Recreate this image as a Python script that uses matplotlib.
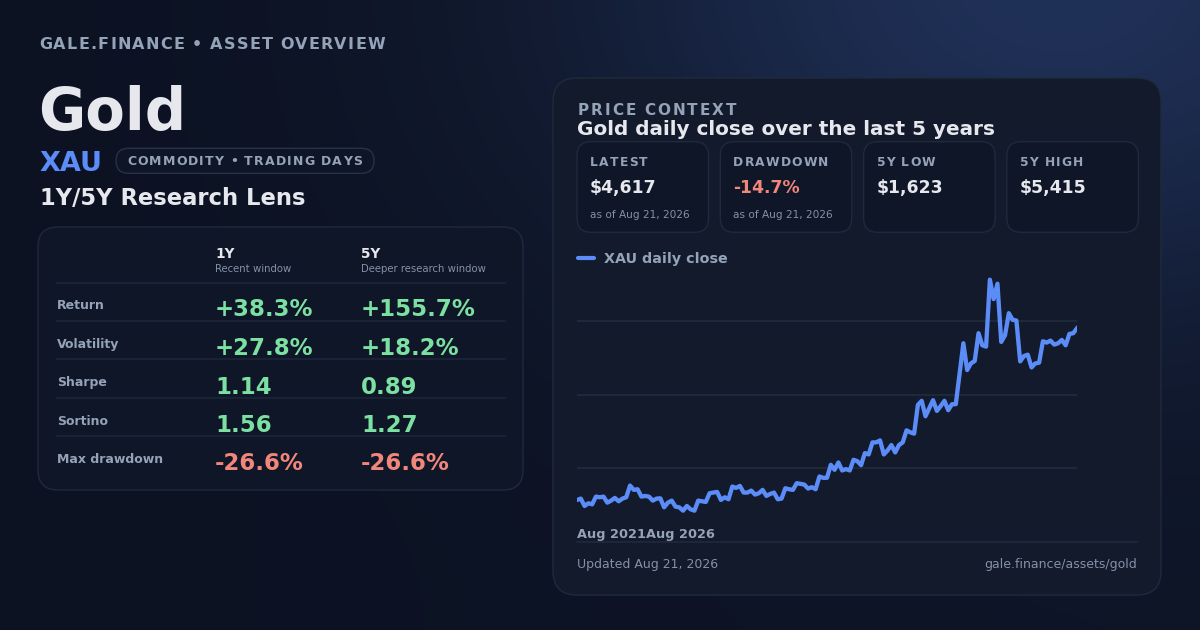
"""
Gold asset overview card: 1Y/5Y metrics table plus 5-year price context.
"""

import numpy as np
import pandas as pd
import matplotlib
matplotlib.use('Agg')
import matplotlib.pyplot as plt
from matplotlib.patches import FancyBboxPatch

# ---- data -------------------------------------------------------------
asset_name = "Gold"
ticker = "XAU"
updated = "Aug 21, 2026"

metrics = ['Return', 'Volatility', 'Sharpe', 'Sortino', 'Max drawdown']
metric_is_pct = [True, True, False, False, True]
one_year = [38.3, 27.8, 1.14, 1.56, -26.6]
five_year = [155.7, 18.2, 0.89, 1.27, -26.6]

stat_labels = ['LATEST', 'DRAWDOWN', '5Y LOW', '5Y HIGH']
stat_values = ['$4,617', '-14.7%', '$1,623', '$5,415']
stat_notes = ['as of Aug 21, 2026', 'as of Aug 21, 2026', '', '']

price = [1799, 1821, 1700, 1744, 1727, 1854, 1843, 1854, 1755, 1788,
         1832, 1777, 1821, 1843, 2035, 1964, 1975, 1854, 1865, 1854,
         1788, 1821, 1826, 1678, 1755, 1788, 1689, 1678, 1623, 1700,
         1645, 1623, 1788, 1777, 1766, 1909, 1920, 1931, 1799, 1843,
         1810, 2019, 1997, 2030, 1920, 1920, 1953, 1887, 1909, 1964,
         1865, 1898, 1920, 1810, 1821, 1991, 1975, 1964, 2074, 2063,
         2052, 1986, 2008, 1975, 2184, 2162, 2162, 2376, 2294, 2414,
         2283, 2305, 2283, 2458, 2436, 2370, 2568, 2546, 2744, 2744,
         2777, 2546, 2612, 2700, 2579, 2700, 2744, 2942, 2909, 2887,
         3360, 3426, 3173, 3305, 3437, 3261, 3338, 3426, 3272, 3371,
         3371, 3871, 4371, 3931, 4041, 4080, 4536, 4338, 4316, 5415,
         5096, 5349, 4393, 4503, 4865, 4756, 4745, 4074, 4162, 4184,
         3975, 4041, 4052, 4404, 4382, 4415, 4349, 4371, 4426, 4338,
         4525, 4536, 4617]
dates = pd.date_range('2021-08-21', '2026-08-21', periods=len(price))

# ---- style ------------------------------------------------------------
W, H = 1200, 630
WHITE = '#e6e8ee'
MUTED = '#94a3b8'
DIM = '#8591a6'
BLUE = '#5b8cf8'
GREEN = '#7be0a2'
RED = '#f1867b'
EDGE = '#1f2a3d'
LINE = '#1c2639'
Y_LO, Y_HI = 1125, 5935

fig = plt.figure(figsize=(12, 6.3), dpi=100)
bg = fig.add_axes([0, 0, 1, 1])

# background: dark navy with a soft glow from the top right
yy, xx = np.mgrid[0:H, 0:W]
glow = np.exp(-((xx - 1060) ** 2 / (2 * 340.0 ** 2) + (yy + 30) ** 2 / (2 * 240.0 ** 2)))
lift = np.clip((xx / W) * (yy / H), 0, 1) * 0.08
base = np.array([12, 18, 34]) / 255
top = np.array([32, 49, 88]) / 255
img = base + (glow + lift)[..., None] * (top - base)
bg.imshow(np.clip(img, 0, 1), extent=[0, W, H, 0], aspect='auto', zorder=0)
bg.set_xlim(0, W)
bg.set_ylim(H, 0)
bg.axis('off')

renderer = fig.canvas.get_renderer()


def ink_width(s, **kw):
    t = bg.text(0, 0, s, **kw)
    w = t.get_window_extent(renderer).width
    t.remove()
    return w


def spaced(x, y, s, width, **kw):
    """Letter-spaced text spanning `width` pixels."""
    ws = []
    for c in s:
        if c == ' ':
            ws.append(ink_width('a a', **kw) - ink_width('aa', **kw))
        else:
            ws.append(ink_width(c, **kw))
    gap = (width - sum(ws)) / (len(s) - 1)
    for c, w in zip(s, ws):
        if c != ' ':
            bg.text(x, y, c, ha='left', va='baseline', zorder=3, **kw)
        x += w + gap


def card(x0, y0, x1, y1, r, fc, ec=EDGE, lw=1.0):
    bg.add_patch(FancyBboxPatch((x0, y0), x1 - x0, y1 - y0,
                                boxstyle=f"round,pad=0,rounding_size={r}",
                                fc=fc, ec=ec, lw=lw, zorder=1))


def txt(x, y, s, size, color, weight='normal', ha='left'):
    bg.text(x, y, s, fontsize=size, color=color, fontweight=weight,
            ha=ha, va='baseline', zorder=3)


# ---- left header ------------------------------------------------------
spaced(39, 49, "GALE.FINANCE • ASSET OVERVIEW", 346,
       fontsize=11.5, fontweight='bold', color=MUTED)
txt(38, 130, asset_name, 41.5, WHITE, 'bold')
txt(39, 171, ticker, 19.5, BLUE, 'bold')
card(116, 148.3, 374, 173.3, 12.5, '#0e1526', ec='#263248')
spaced(127, 165.3, "COMMODITY • TRADING DAYS", 235,
       fontsize=9, fontweight='bold', color=MUTED)
txt(40, 205, "1Y/5Y Research Lens", 16.3, WHITE, 'bold')

# ---- metrics table ----------------------------------------------------
card(38, 227, 523, 490, 20, '#0f1627')
col_x = [215, 361]
col_titles = ['1Y', '5Y']
col_subs = ['Recent window', 'Deeper research window']
for cx, t, s in zip(col_x, col_titles, col_subs):
    txt(cx, 258.3, t, 9.8, WHITE, 'bold')
    txt(cx, 272.3, s, 7.3, DIM)
bg.plot([57, 505], [283.3, 283.3], color=LINE, lw=1.2, zorder=2)


def fmt(v, pct):
    if pct:
        return f"{v:+.1f}%"
    return f"{v:.2f}"


row_step = 38.5
for i, (m, pct, a, b) in enumerate(zip(metrics, metric_is_pct, one_year, five_year)):
    yl = 309.3 + i * row_step
    txt(57, yl, m, 9, MUTED, 'bold')
    for cx, v in zip(col_x, (a, b)):
        txt(cx, yl + 7.2, fmt(v, pct), 16.5, RED if v < 0 else GREEN, 'bold')
    if i < len(metrics) - 1:
        ys = 320.5 + i * row_step
        bg.plot([57, 505], [ys, ys], color=LINE, lw=1.2, zorder=2)

# ---- right card -------------------------------------------------------
card(553, 78, 1161, 595, 24, '#121a2c')
spaced(578, 115.3, "PRICE CONTEXT", 158, fontsize=11, fontweight='bold', color=MUTED)
txt(577, 135, f"{asset_name} daily close over the last 5 years", 14.4, WHITE, 'bold')

box_w, box_gap = 131.5, 11.8
label_widths = [57.5, 95, 58.6, 63]
for i, (lab, val, note) in enumerate(zip(stat_labels, stat_values, stat_notes)):
    x0 = 577 + i * (box_w + box_gap)
    card(x0, 141.7, x0 + box_w, 232.3, 14, '#0f1627')
    spaced(x0 + 13, 166, lab, label_widths[i], fontsize=8.8, fontweight='bold', color=MUTED)
    txt(x0 + 13, 193, val, 12.4, RED if val.startswith('-') else WHITE, 'bold')
    if note:
        txt(x0 + 13, 218, note, 7.6, DIM)

# legend
bg.plot([578, 594], [257.5, 257.5], color=BLUE, lw=3, solid_capstyle='round', zorder=3)
txt(604, 262.5, f"{ticker} daily close", 10.3, MUTED, 'bold')

# price line
ax = fig.add_axes([577 / W, 1 - 541 / H, 500 / W, 293 / H])
ax.patch.set_alpha(0)
for g in np.linspace(Y_LO, Y_HI, 5)[1:4]:
    ax.axhline(g, color=EDGE, lw=1.3, zorder=0)
ax.plot(dates, price, color=BLUE, lw=3.1, solid_joinstyle='round', zorder=2)
ax.set_xlim(dates[0], dates[-1])
ax.set_ylim(Y_LO, Y_HI)
ax.set_xticks([])
ax.set_yticks([])
for s in ax.spines.values():
    s.set_visible(False)

txt(577, 537.7, f"{dates[0]:%b %Y}{dates[-1]:%b %Y}", 9.3, MUTED, 'bold')
bg.plot([577, 1137], [541.5, 541.5], color=EDGE, lw=1.2, zorder=2)
txt(577, 568, f"Updated {updated}", 9, DIM)
txt(1137, 568, "gale.finance/assets/gold", 9, DIM, ha='right')

fig.savefig('out.png', dpi=100, facecolor='#0b1120')
